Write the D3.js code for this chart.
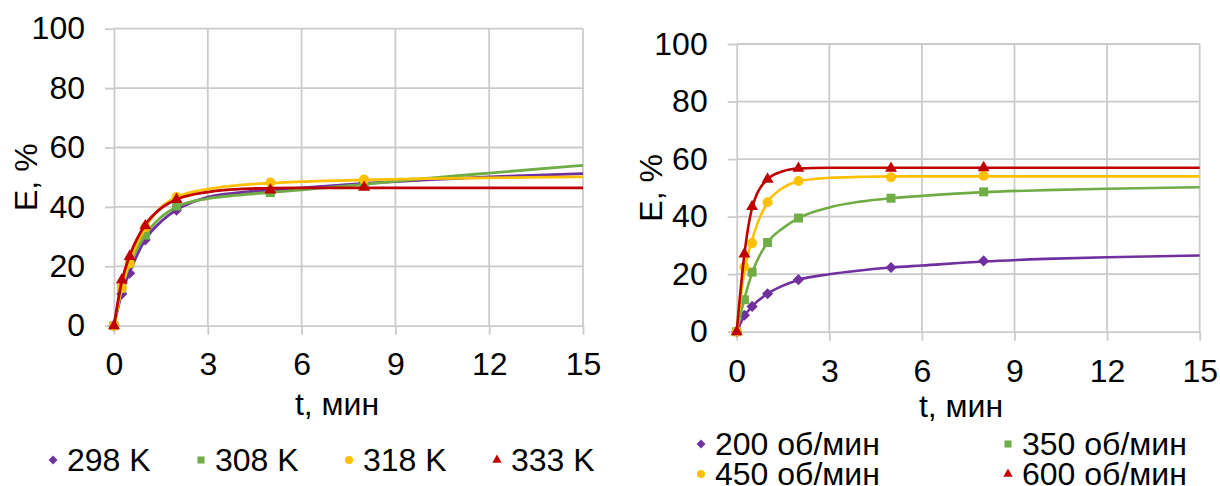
<!DOCTYPE html>
<html><head><meta charset="utf-8">
<script src="https://cdn.jsdelivr.net/npm/d3@7"></script>
<style>
html,body{margin:0;padding:0;background:#fff;}
svg{display:block;font-family:"Liberation Sans",Arial,sans-serif;}
</style></head>
<body>
<svg id="c" width="1220" height="486"></svg>
<script>
// ---------- data ----------
const tPoints = [0, 0.25, 0.5, 1, 2, 5, 8];
const tFit = [0, 0.25, 0.5, 1, 1.5, 2, 3, 4, 5, 6, 8, 10, 12, 15];
const xTicks = [0, 3, 6, 9, 12, 15];
const yTicks = [0, 20, 40, 60, 80, 100];
const xLabel = "t, мин";
const yLabel = "E, %";

// left chart: temperature
const leftNames = ["298 K", "308 K", "318 K", "333 K"];
const left298 = [0, 10.7, 17.7, 28.9, 38.9, 45.5, 48.3];
const left308 = [0, 12.5, 21.0, 30.5, 40.3, 44.8, 47.8];
const left318 = [0, 12.7, 21.0, 33.2, 43.3, 48.2, 49.2];
const left333 = [0, 15.4, 23.3, 33.6, 42.5, 45.7, 46.6];
const leftFit298 = [0, 11, 18, 29, 35, 39, 43.3, 44.8, 45.6, 46.4, 47.9, 49.1, 50.1, 51.2];
const leftFit308 = [0, 12.5, 20.5, 30.5, 36.5, 40, 42.8, 44, 44.9, 45.7, 47.6, 49.6, 51.4, 54];
const leftFit318 = [0, 13, 21.5, 33, 39.8, 43.2, 46, 47.3, 48, 48.5, 49.1, 49.5, 49.8, 50.1];
const leftFit333 = [0, 15, 23.5, 34, 39.5, 42.5, 45, 46, 46.3, 46.4, 46.4, 46.4, 46.4, 46.4];

// right chart: stirring speed
const rightNames = ["200 об/мин", "350 об/мин", "450 об/мин", "600 об/мин"];
const right200 = [0, 5.7, 8.8, 13.2, 18.1, 22.3, 24.6];
const right350 = [0, 11.1, 20.7, 31.0, 39.5, 46.4, 48.6];
const right450 = [0, 22.5, 30.8, 45.0, 52.4, 53.7, 54.2];
const right600 = [0, 27.0, 43.5, 53.0, 56.8, 56.8, 57.0];
const rightFit200 = [0, 5.5, 8.8, 13.2, 16, 18, 20, 21.3, 22.3, 23, 24.4, 25.3, 25.9, 26.5];
const rightFit350 = [0, 11.5, 20.5, 31, 36, 39.5, 43.2, 45.2, 46.4, 47.2, 48.5, 49.2, 49.7, 50.2];
const rightFit450 = [0, 21, 32, 45, 50, 52.3, 53.5, 53.8, 54, 54, 54, 54, 54, 54];
const rightFit600 = [0, 27, 43, 53, 55.8, 56.7, 57, 57, 57, 57, 57, 57, 57, 57];

// ---------- styles ----------
const colors = ["#7030A0", "#70AD47", "#FFC000", "#C00000"];
const shapes = ["diamond", "square", "circle", "triangle"];
const FONT = 32;
const gridColor = "#cbcbcb";

const svg = d3.select("#c");

function symbolPath(shape, big) {
  if (shape === "diamond") return d3.symbol(d3.symbolSquare, big ? 62 : 40)();
  if (shape === "square") return d3.symbol(d3.symbolSquare, big ? 81 : 50)();
  if (shape === "circle") return d3.symbol(d3.symbolCircle, big ? 80 : 52)();
  return d3.symbol(d3.symbolTriangle, big ? 62 : 38)();
}
function symbolRot(shape) { return shape === "diamond" ? " rotate(45)" : ""; }

function drawChart(cfg) {
  const x = d3.scaleLinear().domain([0, 15]).range([cfg.x0, cfg.x1]);
  const y = d3.scaleLinear().domain([0, 100]).range([cfg.y0, cfg.y1]);
  const g = svg.append("g");

  // gridlines
  g.append("g").selectAll("line").data(yTicks.filter(v => v > 0)).join("line")
    .attr("x1", cfg.x0).attr("x2", cfg.x1)
    .attr("y1", d => y(d)).attr("y2", d => y(d))
    .attr("stroke", gridColor).attr("stroke-width", 1.8);
  g.append("g").selectAll("line").data(xTicks.filter(v => v > 0)).join("line")
    .attr("x1", d => x(d)).attr("x2", d => x(d))
    .attr("y1", cfg.y0).attr("y2", cfg.y1)
    .attr("stroke", gridColor).attr("stroke-width", 1.8);

  // axes
  const ay = g.append("g").attr("transform", `translate(${cfg.x0},0)`)
    .call(d3.axisLeft(y).tickValues(yTicks).tickSize(9).tickSizeOuter(0).tickPadding(cfg.yPad));
  const ax = g.append("g").attr("transform", `translate(0,${cfg.y0})`)
    .call(d3.axisBottom(x).tickValues(xTicks).tickSize(9).tickSizeOuter(0).tickPadding(cfg.xPad));
  [ay, ax].forEach(a => {
    a.selectAll("path,line").attr("stroke", gridColor).attr("stroke-width", 1.8);
    a.selectAll("text").attr("fill", "#000").style("font-size", FONT + "px")
      .style("font-family", '"Liberation Sans", Arial, sans-serif');
  });

  // axis titles
  g.append("text").attr("transform", `translate(${cfg.yTitleX},${(cfg.y0 + cfg.y1) / 2}) rotate(-90)`)
    .attr("text-anchor", "middle").attr("dy", "0.35em")
    .style("font-size", FONT + "px").text(yLabel);
  g.append("text").attr("x", cfg.xTitleX).attr("y", cfg.xTitleY)
    .attr("text-anchor", "middle").attr("dy", "0.35em")
    .style("font-size", FONT + "px").text(xLabel);

  // series
  const line = d3.line().x(d => x(d[0])).y(d => y(d[1])).curve(d3.curveMonotoneX);
  cfg.series.forEach((s, i) => {
    const fitData = tFit.map((t, k) => [t, s.fit[k]]);
    g.append("path").attr("d", line(fitData)).attr("fill", "none")
      .attr("stroke", colors[i]).attr("stroke-width", cfg.lw).attr("stroke-linejoin", "round");
    g.append("g").selectAll("path").data(tPoints.map((t, k) => [t, s.pts[k]])).join("path")
      .attr("d", symbolPath(shapes[i], true))
      .attr("transform", d => `translate(${x(d[0])},${y(d[1])})${symbolRot(shapes[i])}`)
      .attr("fill", colors[i]);
  });

  // legend
  cfg.legend.forEach((L, i) => {
    g.append("path").attr("d", symbolPath(shapes[i], false))
      .attr("transform", `translate(${L.mx},${L.y})${symbolRot(shapes[i])}`)
      .attr("fill", colors[i]);
    g.append("text").attr("x", L.tx).attr("y", L.y).attr("dy", "0.35em")
      .style("font-size", FONT + "px").text(cfg.names[i]);
  });
}

drawChart({
  x0: 114, x1: 583, y0: 325.7, y1: 28.7, yPad: 20, xPad: 18, lw: 2.8,
  yTitleX: 26, xTitleX: 337, xTitleY: 404,
  names: leftNames,
  series: [
    { pts: left298, fit: leftFit298 },
    { pts: left308, fit: leftFit308 },
    { pts: left318, fit: leftFit318 },
    { pts: left333, fit: leftFit333 }
  ],
  legend: [
    { mx: 53, tx: 67, y: 460 },
    { mx: 201, tx: 215, y: 460 },
    { mx: 349, tx: 363, y: 460 },
    { mx: 497, tx: 511, y: 460 }
  ]
});

drawChart({
  x0: 736.7, x1: 1199.7, y0: 331.7, y1: 44, yPad: 20, xPad: 19, lw: 2.6,
  yTitleX: 651, xTitleX: 961, xTitleY: 406,
  names: rightNames,
  series: [
    { pts: right200, fit: rightFit200 },
    { pts: right350, fit: rightFit350 },
    { pts: right450, fit: rightFit450 },
    { pts: right600, fit: rightFit600 }
  ],
  legend: [
    { mx: 701, tx: 715, y: 444 },
    { mx: 1008, tx: 1022, y: 444 },
    { mx: 701, tx: 715, y: 474 },
    { mx: 1008, tx: 1022, y: 474 }
  ]
});
</script>
</body></html>
